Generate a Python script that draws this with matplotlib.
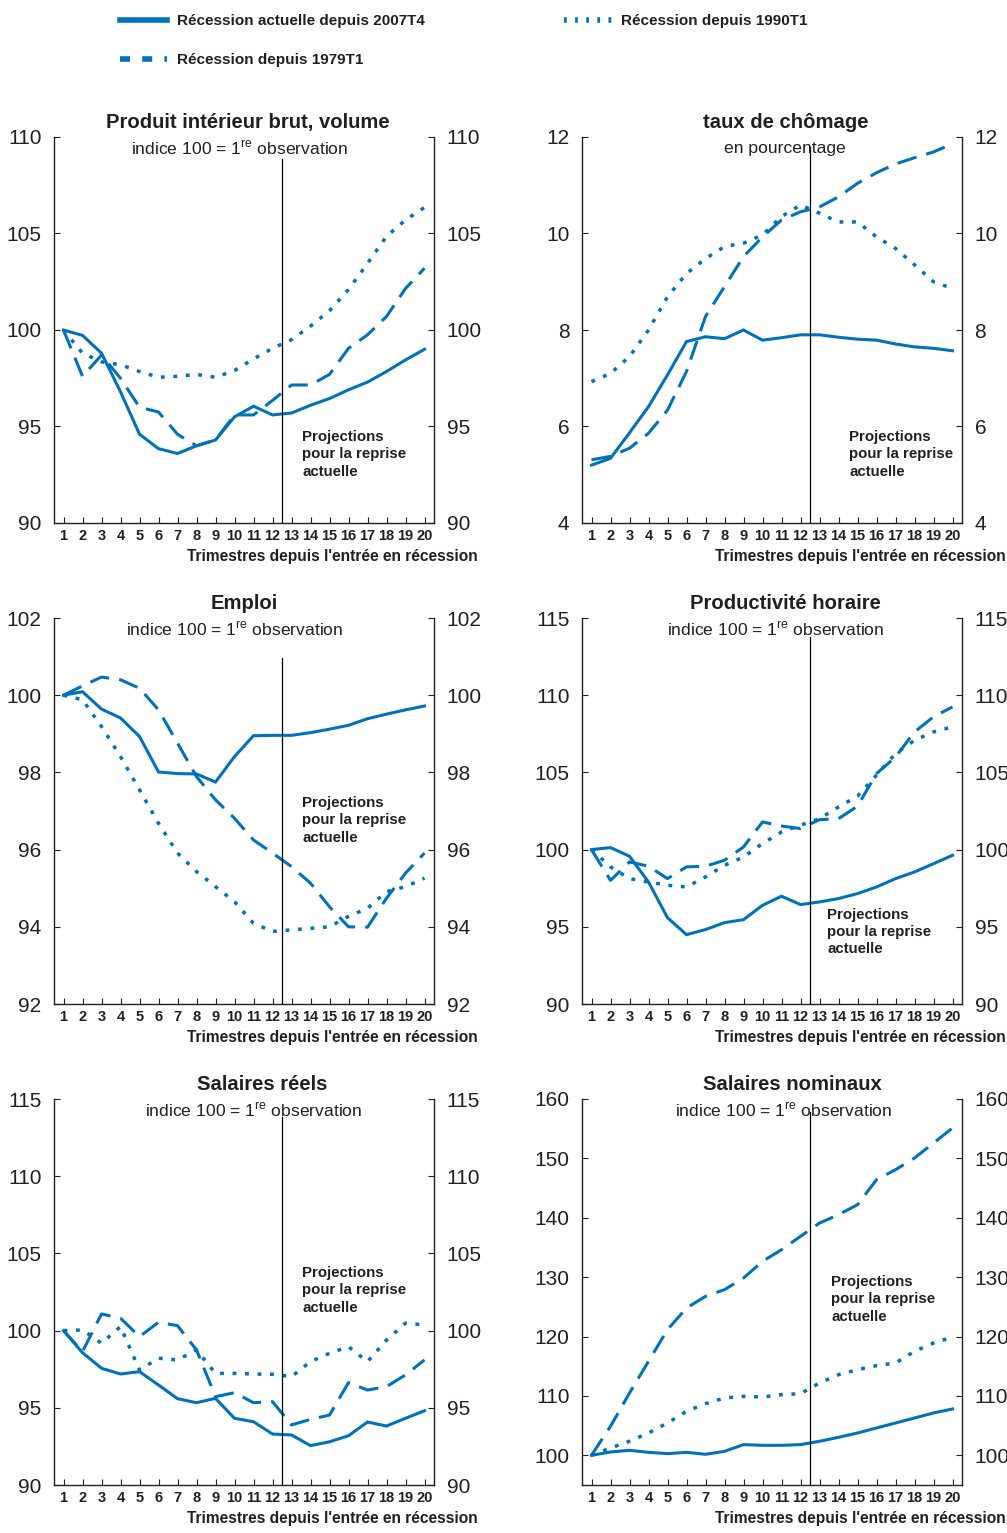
import matplotlib
matplotlib.use("Agg")
import matplotlib.pyplot as plt
from matplotlib.lines import Line2D

plt.rcParams['font.family'] = ['Liberation Sans', 'DejaVu Sans']
plt.rcParams['mathtext.fontset'] = 'custom'
plt.rcParams['mathtext.rm'] = 'Liberation Sans'

BLUE = '#0072bc'
DARK = '#231f20'

# ---- données ----
trimestres = list(range(1, 21))

pib_2007 = [100, 99.72, 98.8, 96.8, 94.6, 93.85, 93.6, 94.0, 94.3, 95.5,
            96.05, 95.6, 95.7, 96.1, 96.45, 96.9, 97.3, 97.85, 98.45, 99.0]
pib_1979 = [100, 97.6, 98.7, 97.5, 96.0, 95.75, 94.6, 94.0, 94.3, 95.6,
            95.6, 96.35, 97.15, 97.15, 97.7, 99.05, 99.75, 100.7, 102.15, 103.2]
pib_1990 = [100, 98.8, 98.35, 98.2, 97.85, 97.55, 97.6, 97.7, 97.55, 97.9,
            98.5, 99.05, 99.5, 100.2, 101.0, 102.1, 103.45, 104.85, 105.7, 106.35]

chom_2007 = [5.2, 5.34, 5.87, 6.41, 7.07, 7.76, 7.86, 7.82, 8.0, 7.79,
             7.84, 7.9, 7.9, 7.85, 7.81, 7.79, 7.71, 7.65, 7.62, 7.57]
chom_1979 = [5.31, 5.38, 5.55, 5.86, 6.34, 7.14, 8.28, 8.9, 9.52, 9.93,
             10.28, 10.45, 10.55, 10.76, 11.04, 11.26, 11.44, 11.57, 11.69, 11.86]
chom_1990 = [6.93, 7.1, 7.45, 8.0, 8.69, 9.17, 9.48, 9.73, 9.8, 9.97,
             10.35, 10.59, 10.42, 10.24, 10.24, 9.93, 9.69, 9.35, 9.0, 8.86]

emploi_2007 = [100, 100.09, 99.64, 99.41, 98.93, 98.01, 97.97, 97.96, 97.75, 98.41,
               98.95, 98.96, 98.96, 99.03, 99.12, 99.22, 99.39, 99.51, 99.62, 99.72]
emploi_1979 = [100, 100.24, 100.47, 100.4, 100.18, 99.62, 98.76, 97.89, 97.29, 96.81,
               96.25, 95.91, 95.56, 95.13, 94.52, 94.0, 93.99, 94.74, 95.39, 95.91]
emploi_1990 = [100, 99.88, 99.19, 98.41, 97.55, 96.68, 95.91, 95.43, 95.04, 94.65,
               94.09, 93.88, 93.92, 93.96, 94.0, 94.27, 94.48, 94.91, 95.04, 95.26]

prod_2007 = [100, 100.13, 99.57, 97.9, 95.59, 94.49, 94.82, 95.27, 95.46, 96.39,
             96.98, 96.44, 96.61, 96.83, 97.15, 97.58, 98.12, 98.55, 99.09, 99.63]
prod_1979 = [100, 98.01, 99.2, 98.92, 98.12, 98.88, 98.92, 99.31, 100.17, 101.79,
             101.53, 101.36, 101.94, 102.0, 102.81, 104.92, 106.0, 107.62, 108.6, 109.24]
prod_1990 = [100, 98.88, 98.12, 97.9, 97.69, 97.58, 98.23, 98.98, 99.52, 100.39,
             101.14, 101.58, 102.0, 102.76, 103.46, 104.82, 106.22, 107.08, 107.62, 107.95]

reel_2007 = [100, 98.57, 97.56, 97.19, 97.34, 96.48, 95.59, 95.33, 95.61, 94.32,
             94.1, 93.3, 93.24, 92.55, 92.8, 93.19, 94.08, 93.82, 94.32, 94.81]
reel_1979 = [100, 98.64, 101.08, 100.8, 99.61, 100.54, 100.32, 98.75, 95.72, 95.98,
             95.33, 95.4, 93.89, 94.25, 94.53, 96.63, 96.15, 96.37, 97.13, 98.1]
reel_1990 = [100, 100.04, 99.18, 100.26, 97.45, 98.21, 98.1, 98.75, 97.23, 97.23,
             97.19, 97.17, 97.02, 97.99, 98.53, 98.96, 97.99, 99.39, 100.48, 100.37]

nomi_2007 = [100, 100.56, 100.84, 100.5, 100.28, 100.5, 100.17, 100.67, 101.8, 101.68,
             101.68, 101.8, 102.36, 103.03, 103.76, 104.6, 105.44, 106.28, 107.13, 107.8]
nomi_1979 = [100, 104.88, 110.49, 115.82, 121.16, 124.8, 126.77, 127.89, 129.85, 132.66,
             134.62, 136.87, 139.11, 140.52, 142.2, 146.41, 148.09, 150.06, 152.58, 155.11]
nomi_1990 = [100, 101.23, 102.36, 103.76, 105.44, 107.41, 108.7, 109.65, 109.93, 109.82,
             110.21, 110.38, 112.18, 113.58, 114.42, 115.1, 115.54, 117.51, 118.91, 119.92]

titres = ["Produit intérieur brut, volume", "taux de chômage", "Emploi",
          "Productivité horaire", "Salaires réels", "Salaires nominaux"]
INDICE = r"indice 100 = 1$^{\mathrm{re}}$ observation"
sous_titres = [INDICE, "en pourcentage", INDICE, INDICE, INDICE, INDICE]
ylims = [(90, 110), (4, 12), (92, 102), (90, 115), (90, 115), (95, 160)]
yticks = [[90, 95, 100, 105, 110], [4, 6, 8, 10, 12], [92, 94, 96, 98, 100, 102],
          [90, 95, 100, 105, 110, 115], [90, 95, 100, 105, 110, 115],
          [100, 110, 120, 130, 140, 150, 160]]
series = [(pib_2007, pib_1979, pib_1990), (chom_2007, chom_1979, chom_1990),
          (emploi_2007, emploi_1979, emploi_1990), (prod_2007, prod_1979, prod_1990),
          (reel_2007, reel_1979, reel_1990), (nomi_2007, nomi_1979, nomi_1990)]

# mise en page (en pixels de la figure)
W, H = 1007, 1533
col_left = [54, 582]
row_bottom = [523, 1004, 1485]
ax_w, ax_h = 380, 386
title_x = [0.51, 0.535, 0.5, 0.535, 0.548, 0.554]
sub_x = [0.489, 0.535, 0.476, 0.51, 0.525, 0.53]
proj_pos = [(0.653, 0.241), (0.703, 0.241), (0.653, 0.539),
            (0.646, 0.249), (0.653, 0.567), (0.656, 0.544)]
vline_top = [0.943, 0.974, 0.896, 0.95, 0.953, 0.966]

fig = plt.figure(figsize=(W / 100, H / 100), dpi=100)

for i in range(6):
    r, c = divmod(i, 2)
    ax = fig.add_axes([col_left[c] / W, 1 - row_bottom[r] / H, ax_w / W, ax_h / H])
    s_2007, s_1979, s_1990 = series[i]
    ax.plot(trimestres, s_1990, color=BLUE, lw=2.5, dashes=(1.1, 2.5), dash_capstyle='butt')
    ax.plot(trimestres, s_1979, color=BLUE, lw=2.2, dashes=(6.5, 3.3))
    ax.plot(trimestres, s_2007, color=BLUE, lw=2.2, solid_joinstyle='miter')
    ax.axvline(12.5, ymax=vline_top[i], color='black', lw=0.9)

    ax.set_xlim(0.5, 20.5)
    ax.set_ylim(*ylims[i])
    ax.set_yticks(yticks[i])
    ax.set_xticks(trimestres)
    ax.set_xticklabels([str(t) for t in trimestres], fontweight='bold', fontsize=10.5)
    ax.tick_params(axis='y', direction='in', length=4, width=0.8, colors=DARK,
                   labelsize=15, right=True, labelright=True, pad=9)
    ax.tick_params(axis='x', direction='in', length=4, width=0.8, colors=DARK, pad=4)
    ax.spines['top'].set_visible(False)
    for sp in ['left', 'right', 'bottom']:
        ax.spines[sp].set_color(DARK)
        ax.spines[sp].set_linewidth(1.0)

    ax.text(title_x[i], 1.037, titres[i], transform=ax.transAxes, ha='center',
            va='center', fontsize=14.6, fontweight='bold', color=DARK)
    ax.text(sub_x[i], 0.97, sous_titres[i], transform=ax.transAxes, ha='center',
            va='center', fontsize=12.6, color=DARK)
    ax.text(proj_pos[i][0], proj_pos[i][1], "Projections\npour la reprise\nactuelle",
            transform=ax.transAxes, ha='left', va='top', fontsize=10.8,
            fontweight='bold', color=DARK, linespacing=1.3)
    ax.set_xlabel("Trimestres depuis l'entrée en récession", fontsize=11.2,
                  fontweight='bold', color=DARK, ha='right')
    ax.xaxis.set_label_coords(1.116, -0.068)

handles = [Line2D([], [], color=BLUE, lw=4),
           Line2D([], [], color=BLUE, lw=4, dashes=(1.8, 2.2)),
           Line2D([], [], color=BLUE, lw=4, dashes=(0.5, 1.5))]
labels = ["Récession actuelle depuis 2007T4", "Récession depuis 1979T1",
          "Récession depuis 1990T1"]
leg = fig.legend(handles, labels, loc='upper left', bbox_to_anchor=(120 / W, 1 - 14 / H),
                 ncol=2, frameon=False, borderpad=0, borderaxespad=0,
                 handlelength=3.1, handletextpad=0.65, columnspacing=9.1,
                 labelspacing=1.65, prop={'weight': 'bold', 'size': 11})
for t in leg.get_texts():
    t.set_color(DARK)

fig.savefig("out.png", dpi=100)
